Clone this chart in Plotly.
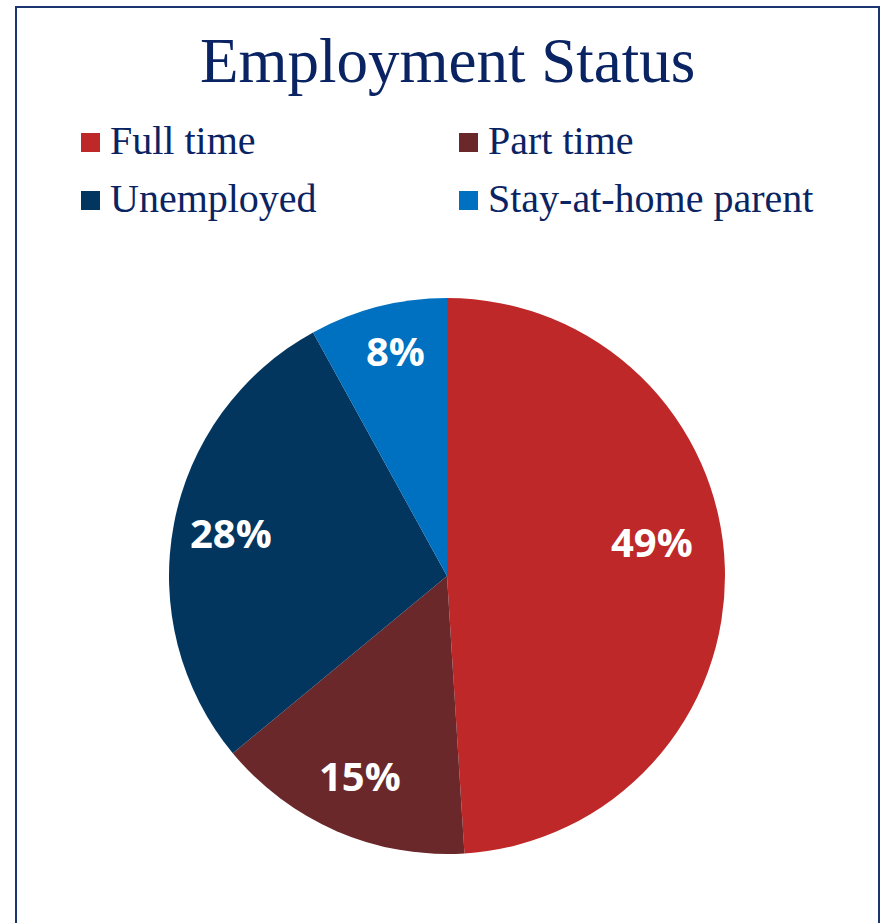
import math
import plotly.graph_objects as go

# Employment status breakdown (percent of respondents)
categories = ["Full time", "Part time", "Unemployed", "Stay-at-home parent"]
shares = [49, 15, 28, 8]
colors = ["#BE2828", "#6B282B", "#03365E", "#0070C0"]

title_text = "Employment Status"
navy = "#0A2463"

W, H = 883, 923

# Pie placement in pixels (centre and radius)
PIE_CX, PIE_CY, PIE_R = 447, 576, 278
LABEL_RADIUS = 0.79                       # label distance from centre, fraction of radius
LABEL_SHIFT = {0: (-15, -26), 3: (3, -11)}  # extra pixel shift for some slice labels
LABEL_LIFT = 2                            # small upward correction for all labels

fig = go.Figure(
    go.Pie(
        labels=categories,
        values=shares,
        sort=False,
        direction="clockwise",
        rotation=0,
        marker=dict(colors=colors, line=dict(width=0)),
        textinfo="none",
        domain=dict(
            x=[(PIE_CX - PIE_R) / W, (PIE_CX + PIE_R) / W],
            y=[1 - (PIE_CY + PIE_R) / H, 1 - (PIE_CY - PIE_R) / H],
        ),
        hoverinfo="label+percent",
        showlegend=False,
    )
)

shapes = []
annotations = []

# Percentage labels placed along each slice's bisector
total = sum(shares)
start = 0.0
for i, v in enumerate(shares):
    frac = v / total
    mid = (start + frac / 2) * 2 * math.pi  # clockwise from 12 o'clock
    start += frac
    px = PIE_CX + LABEL_RADIUS * PIE_R * math.sin(mid)
    py = PIE_CY - LABEL_RADIUS * PIE_R * math.cos(mid)
    dx, dy = LABEL_SHIFT.get(i, (0, 0))
    annotations.append(dict(
        text=f"{frac * 100:.0f}%", xref="paper", yref="paper",
        x=(px + dx) / W, y=1 - (py + dy - LABEL_LIFT) / H,
        xanchor="center", yanchor="middle", showarrow=False,
        font=dict(family="Open Sans", size=40, color="white", weight="bold"),
    ))

# Custom two-column legend: coloured squares with serif labels
legend_cols = [81, 459]
legend_rows = [142.5, 200.5]
for i, (name, col) in enumerate(zip(categories, colors)):
    cx = legend_cols[i % 2]
    cy = legend_rows[i // 2]
    shapes.append(dict(
        type="rect", xref="paper", yref="paper",
        x0=cx / W, x1=(cx + 19) / W,
        y0=1 - (cy + 9.5) / H, y1=1 - (cy - 9.5) / H,
        fillcolor=col, line=dict(width=0),
    ))
    annotations.append(dict(
        text=name, xref="paper", yref="paper",
        x=(cx + 27) / W, y=1 - (cy - 2) / H,
        xanchor="left", yanchor="middle", showarrow=False,
        font=dict(family="Liberation Serif", size=40, color=navy),
    ))

# Outer frame around the chart
shapes.append(dict(
    type="rect", xref="paper", yref="paper",
    x0=16 / W, x1=879 / W, y0=-0.05, y1=1 - 7 / H,
    line=dict(color="#1B3570", width=2), fillcolor="rgba(0,0,0,0)",
))

annotations.append(dict(
    text=title_text, xref="paper", yref="paper",
    x=448 / W, y=1 - 61 / H, xanchor="center", yanchor="middle",
    showarrow=False,
    font=dict(family="Liberation Serif", size=63, color=navy),
))

fig.update_layout(
    width=W, height=H,
    margin=dict(l=0, r=0, t=0, b=0),
    paper_bgcolor="white",
    plot_bgcolor="white",
    shapes=shapes,
    annotations=annotations,
)

fig.write_html("out.html")
